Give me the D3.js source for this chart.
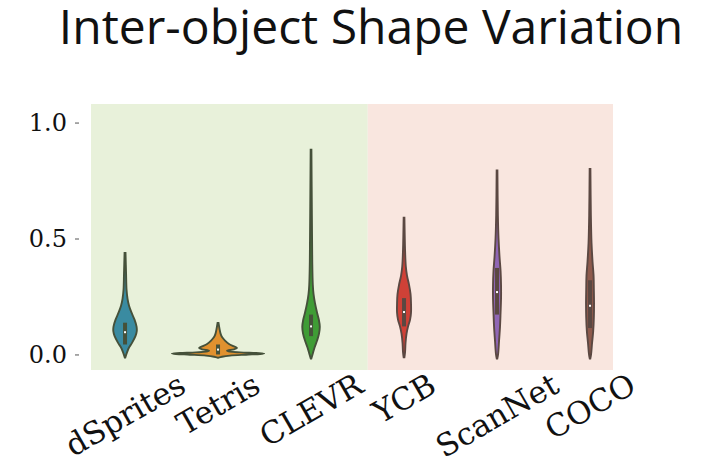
<!DOCTYPE html>
<html>
<head>
<meta charset="utf-8">
<script src="https://cdn.jsdelivr.net/npm/d3@7"></script>
<style>
  body { margin: 0; background: #fff; }
  svg { display: block; }
</style>
</head>
<body>
<div id="chart"></div>
<script>
const categories = ["dSprites", "Tetris", "CLEVR", "YCB", "ScanNet", "COCO"];
const colours = ["#3a8ba1", "#e0912f", "#3f9c35", "#cf4137", "#9066b5", "#8e5a4c"];
const regions = [
  { from: -0.366, to: 2.61, fill: "#e8f1da", line: "#45513a" },
  { from: 2.61, to: 5.247, fill: "#f9e6df", line: "#5b4842" },
];
const yTicks = [0.0, 0.5, 1.0];

// violin outlines: [value, half width in category units]
const dSpritesShape = [[0.438, 0.005], [0.35, 0.011], [0.28, 0.016], [0.24, 0.027], [0.21, 0.043], [0.18, 0.07], [0.15, 0.102], [0.12, 0.124], [0.10, 0.126], [0.08, 0.113], [0.05, 0.075], [0.03, 0.043], [0.01, 0.022], [-0.013, 0.003]];
const tetrisShape = [[0.136, 0.005], [0.11, 0.016], [0.09, 0.027], [0.075, 0.043], [0.06, 0.075], [0.045, 0.118], [0.035, 0.172], [0.028, 0.204], [0.022, 0.172], [0.016, 0.097], [0.012, 0.13], [0.009, 0.237], [0.006, 0.409], [0.004, 0.495], [0.002, 0.452], [-0.001, 0.301], [-0.005, 0.129], [-0.010, 0.043], [-0.014, 0.005]];
const clevrShape = [[0.883, 0.004], [0.6, 0.009], [0.4, 0.013], [0.3, 0.019], [0.26, 0.027], [0.22, 0.043], [0.18, 0.065], [0.15, 0.084], [0.12, 0.094], [0.09, 0.086], [0.06, 0.065], [0.03, 0.038], [0.0, 0.016], [-0.018, 0.003]];
const ycbShape = [[0.59, 0.004], [0.45, 0.011], [0.38, 0.019], [0.34, 0.032], [0.30, 0.054], [0.26, 0.07], [0.22, 0.075], [0.18, 0.075], [0.15, 0.065], [0.12, 0.043], [0.09, 0.027], [0.05, 0.016], [0.01, 0.011], [-0.012, 0.004]];
const scanNetShape = [[0.794, 0.004], [0.6, 0.009], [0.5, 0.016], [0.42, 0.027], [0.36, 0.038], [0.30, 0.043], [0.24, 0.043], [0.18, 0.038], [0.12, 0.032], [0.06, 0.022], [0.0, 0.011], [-0.018, 0.003]];
const cocoShape = [[0.80, 0.004], [0.6, 0.009], [0.48, 0.016], [0.40, 0.027], [0.34, 0.038], [0.28, 0.041], [0.22, 0.043], [0.16, 0.041], [0.10, 0.034], [0.05, 0.022], [0.0, 0.011], [-0.018, 0.003]];
const shapes = [dSpritesShape, tetrisShape, clevrShape, ycbShape, scanNetShape, cocoShape];

// inner box: lower quartile, median, upper quartile
const q1 = [0.043, 0.0, 0.079, 0.121, 0.172, 0.114];
const medians = [0.096, 0.021, 0.121, 0.183, 0.269, 0.21];
const q3 = [0.137, 0.043, 0.172, 0.243, 0.373, 0.32];

const width = 712;
const height = 466;

const svg = d3.select("#chart").append("svg")
  .attr("width", width)
  .attr("height", height);

const x = d3.scaleLinear().domain([-0.366, 5.247]).range([91, 613]);
const y = d3.scaleLinear().domain([-0.067, 1.08]).range([370, 104]);

svg.selectAll("rect.region")
  .data(regions)
  .join("rect")
  .attr("class", "region")
  .attr("x", (d) => x(d.from))
  .attr("width", (d) => x(d.to) - x(d.from))
  .attr("y", y.range()[1])
  .attr("height", y.range()[0] - y.range()[1])
  .attr("fill", (d) => d.fill);

const regionOf = (i) => regions.find((r) => i >= r.from && i < r.to);

// y axis
const yAxis = svg.append("g")
  .attr("transform", "translate(79,0)")
  .call(d3.axisLeft(y).tickValues(yTicks).tickFormat(d3.format(".1f")).tickSize(4).tickPadding(8));
yAxis.select(".domain").remove();
yAxis.selectAll(".tick line").attr("stroke", "#555");
yAxis.selectAll("text")
  .attr("font-family", "DejaVu Serif")
  .attr("font-size", 24)
  .attr("fill", "#111");

// violins
const area = (i) => d3.area()
  .curve(d3.curveCatmullRom)
  .y((d) => y(d[0]))
  .x0((d) => x(i - d[1]))
  .x1((d) => x(i + d[1]));

const violins = svg.append("g")
  .selectAll("g")
  .data(categories)
  .join("g");

violins.append("path")
  .attr("d", (_d, i) => area(i)(shapes[i]))
  .attr("fill", (_d, i) => colours[i])
  .attr("stroke", (_d, i) => regionOf(i).line)
  .attr("stroke-width", 1.9);

violins.append("rect")
  .attr("x", (_d, i) => x(i) - 2)
  .attr("width", 4)
  .attr("y", (_d, i) => y(q3[i]))
  .attr("height", (_d, i) => y(q1[i]) - y(q3[i]))
  .attr("fill", (_d, i) => regionOf(i).line);

violins.append("rect")
  .attr("x", (_d, i) => x(i) - 1)
  .attr("width", 2)
  .attr("y", (_d, i) => y(medians[i]) - 1)
  .attr("height", 2)
  .attr("fill", "#fff");

// x labels, rotated 30 degrees and hung from their top
const labelTop = 366;
const labelSize = 31;
svg.append("g")
  .selectAll("text")
  .data(categories)
  .join("text")
  .attr("font-family", "DejaVu Serif")
  .attr("font-size", labelSize)
  .attr("fill", "#111")
  .attr("text-anchor", "middle")
  .attr("dominant-baseline", "central")
  .text((d) => d)
  .each(function (_d, i) {
    const w = this.getComputedTextLength();
    const h = labelSize * 1.16;
    const cy = labelTop + (w * 0.5 + h * 0.866) / 2;
    d3.select(this).attr("transform", `translate(${x(i)},${cy}) rotate(-30)`);
  });

svg.append("text")
  .attr("x", 371)
  .attr("y", 44)
  .attr("text-anchor", "middle")
  .attr("font-family", "Open Sans")
  .attr("font-size", 48)
  .attr("fill", "#111")
  .text("Inter-object Shape Variation");
</script>
</body>
</html>
